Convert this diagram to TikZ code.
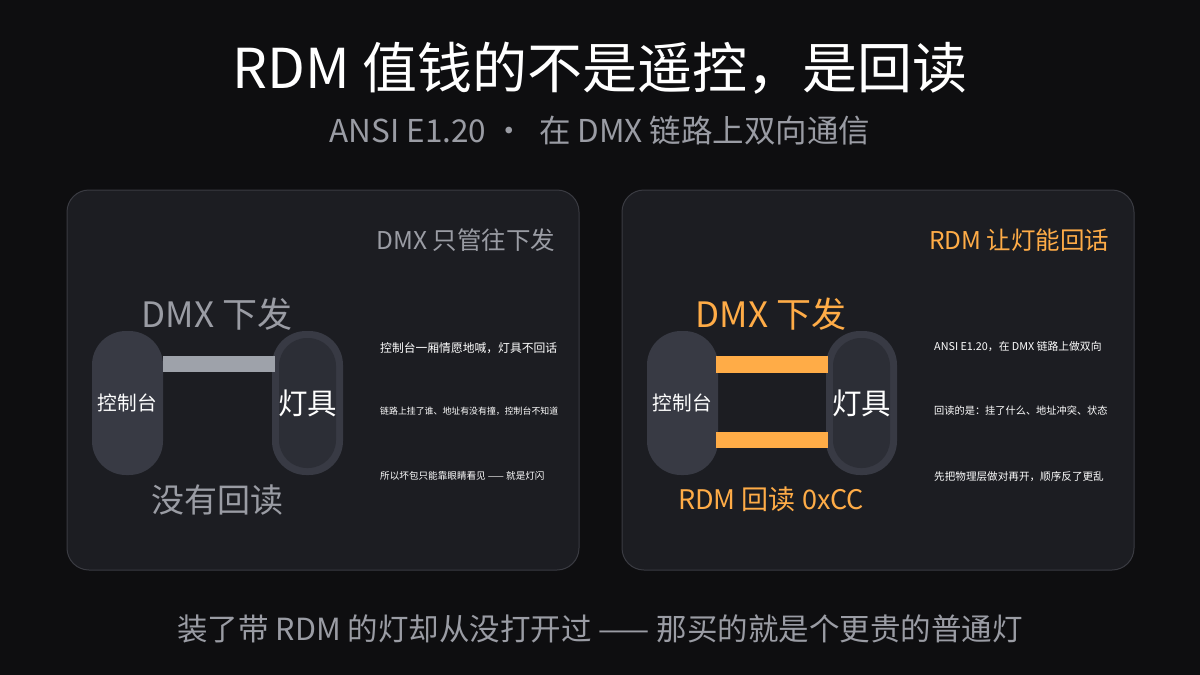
\documentclass[tikz,border=0pt]{standalone}
\usepackage{fontspec}
\setmainfont{Noto Sans CJK SC}
\definecolor{bg}{HTML}{0E0E10}
\definecolor{panel}{HTML}{1C1D22}
\definecolor{pborder}{HTML}{3A3B42}
\definecolor{pill}{HTML}{383A44}
\definecolor{pillin}{HTML}{2C2E36}
\definecolor{gtxt}{HTML}{9A9CA4}
\definecolor{bar}{HTML}{9EA2AA}
\definecolor{org}{HTML}{FFAC47}
\begin{document}
\begin{tikzpicture}[x=1pt,y=-1pt,
  panelbox/.style={draw=pborder,line width=1pt,fill=panel,rounded corners=22pt},
  pillbox/.style={fill=pill,rounded corners=34pt},
  innerbox/.style={fill=pillin,rounded corners=28pt},
  small/.style={text=white,font=\fontsize{10}{12}\selectfont,anchor=west,inner sep=0}]
\path[fill=bg] (0,0) rectangle (1200,675);
\useasboundingbox (0,0) rectangle (1200,675);
\node[text=white,font=\fontsize{55}{60}\selectfont] (title) at (600,68) {RDM 值钱的不是遥控，是回读};
\node[text=gtxt,font=\fontsize{31.5}{36}\selectfont] (sub) at (600,131) {ANSI E1.20 ·\ \ 在 DMX 链路上双向通信};
\node[text=gtxt,font=\fontsize{30.5}{34}\selectfont] (foot) at (600,629) {装了带 RDM 的灯却从没打开过 —— 那买的就是个更贵的普通灯};
% left panel
\path[panelbox] (67,190) rectangle (579,570);
\node[text=gtxt,font=\fontsize{24.5}{28}\selectfont,anchor=east] (lt) at (559,240) {DMX 只管往下发};
\path[pillbox] (92,331) rectangle (163,475);
\node[text=white,font=\fontsize{19.7}{22}\selectfont] (c1) at (127.5,403) {控制台};
\path[pillbox] (272,331) rectangle (343,475);
\path[innerbox] (279,338) rectangle (336,468);
\node[text=white,font=\fontsize{29.5}{32}\selectfont] (f1) at (307.5,403) {灯具};
\path[fill=bar] (163,356) rectangle (275,372);
\node[text=gtxt,font=\fontsize{35}{38}\selectfont] (d1) at (217,314) {DMX 下发};
\node[text=gtxt,font=\fontsize{33}{36}\selectfont] (n1) at (217,500) {没有回读};
\node[small,font=\fontsize{11.8}{13}\selectfont] (l1) at (380,348) {控制台一厢情愿地喊，灯具不回话};
\node[small,font=\fontsize{8.9}{11}\selectfont] (l2) at (380,411) {链路上挂了谁、地址有没有撞，控制台不知道};
\node[small,font=\fontsize{9.6}{11}\selectfont] (l3) at (380,476) {所以坏包只能靠眼睛看见 —— 就是灯闪};
% right panel
\path[panelbox] (622,190) rectangle (1134,570);
\node[text=org,font=\fontsize{24.5}{28}\selectfont,anchor=east] (rt) at (1113,240) {RDM 让灯能回话};
\path[pillbox] (647,331) rectangle (718,475);
\node[text=white,font=\fontsize{19.7}{22}\selectfont] (c2) at (682.5,403) {控制台};
\path[pillbox] (826,331) rectangle (897,475);
\path[innerbox] (833,338) rectangle (890,468);
\node[text=white,font=\fontsize{29.5}{32}\selectfont] (f2) at (861.5,403) {灯具};
\path[fill=org] (716,356) rectangle (828,373);
\path[fill=org] (716,432) rectangle (828,448);
\node[text=org,font=\fontsize{35}{38}\selectfont] (d2) at (771,314) {DMX 下发};
\node[text=org,font=\fontsize{27}{30}\selectfont] (r2) at (771,499) {RDM 回读 0xCC};
\node[small,font=\fontsize{10.8}{13}\selectfont] (m1) at (934,347) {ANSI E1.20，在 DMX 链路上做双向};
\node[small,font=\fontsize{10.2}{13}\selectfont] (m2) at (934,411) {回读的是：挂了什么、地址冲突、状态};
\node[small,font=\fontsize{10.6}{13}\selectfont] (m3) at (934,477) {先把物理层做对再开，顺序反了更乱};
\end{tikzpicture}
\end{document}
